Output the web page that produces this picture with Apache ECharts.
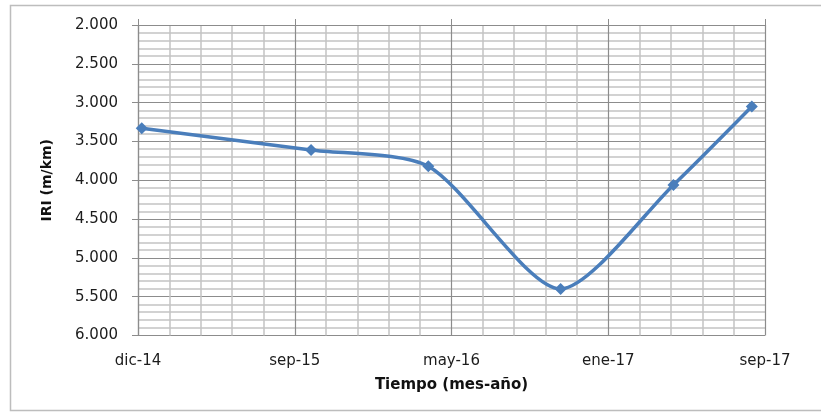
<!DOCTYPE html>
<html>
<head>
<meta charset="utf-8">
<script src="https://cdn.jsdelivr.net/npm/echarts@6/dist/echarts.min.js"></script>
<style>html,body{margin:0;padding:0;background:#fff}#c{width:821px;height:412px}</style>
</head>
<body>
<div id="c"></div>
<script>
// ---- data ----
const axisStart = '2014-12-28';
const dates = ['2015-01-03', '2015-09-30', '2016-04-04', '2016-11-01', '2017-04-30', '2017-09-02'];
const iri = [3.33, 3.61, 3.82, 5.40, 4.06, 3.05];
const xTickLabels = ['dic-14', 'sep-15', 'may-16', 'ene-17', 'sep-17'];
const xTickStepDays = 250;
const yMin = 2, yMax = 6, yStep = 0.5;

const dayMs = 86400000;
const t0 = Date.parse(axisStart);
const points = dates.map((d, i) => [(Date.parse(d) - t0) / dayMs, iri[i]]);

const font = 'DejaVu Sans';
const chart = echarts.init(document.getElementById('c'), null, {renderer: 'canvas'});
chart.setOption({
  animation: false,
  backgroundColor: '#fff',
  graphic: [{
    type: 'rect', shape: {x: 10.5, y: 5.5, width: 900, height: 405},
    style: {fill: 'none', stroke: '#bdbdbd', lineWidth: 1.5}, silent: true
  }],
  grid: {left: 138, right: 56, top: 25, bottom: 76.5, containLabel: false},
  xAxis: [{
    type: 'value', position: 'bottom',
    min: 0, max: xTickStepDays * (xTickLabels.length - 1), interval: xTickStepDays,
    axisLine: {show: false}, axisTick: {show: false},
    axisLabel: {
      margin: 18, color: '#1c1c1c', fontFamily: font, fontSize: 15,
      formatter: v => xTickLabels[Math.round(v / xTickStepDays)] || ''
    },
    splitLine: {show: true, lineStyle: {color: '#8c8c8c', width: 1.2}},
    minorTick: {show: false, splitNumber: 5},
    minorSplitLine: {show: true, lineStyle: {color: '#c4c4c4', width: 1.5}},
    name: 'Tiempo (mes-año)', nameLocation: 'middle', nameGap: 42,
    nameTextStyle: {fontFamily: font, fontSize: 15, fontWeight: 'bold', color: '#111'}
  }, {
    type: 'value', position: 'top',
    min: 0, max: xTickStepDays * (xTickLabels.length - 1), interval: xTickStepDays,
    axisLine: {show: true, lineStyle: {color: '#8c8c8c', width: 1.2}},
    axisTick: {show: true, length: 6, lineStyle: {color: '#8c8c8c'}},
    axisLabel: {show: false}, splitLine: {show: false}
  }],
  yAxis: {
    type: 'value', inverse: true, min: yMin, max: yMax, interval: yStep,
    axisLine: {show: true, lineStyle: {color: '#8c8c8c', width: 1.2}},
    axisTick: {show: true, length: 6, lineStyle: {color: '#8c8c8c'}},
    axisLabel: {
      margin: 20, color: '#1c1c1c', fontFamily: font, fontSize: 15,
      formatter: v => v.toFixed(3)
    },
    splitLine: {show: true, lineStyle: {color: '#8c8c8c', width: 1.2}},
    minorTick: {show: false, splitNumber: 5},
    minorSplitLine: {show: true, lineStyle: {color: '#c4c4c4', width: 1.5}},
    name: 'IRI (m/km)', nameLocation: 'middle', nameRotate: 90, nameGap: 84,
    nameTextStyle: {fontFamily: font, fontSize: 14, fontWeight: 'bold', color: '#111'}
  },
  series: [{
    type: 'line', xAxisIndex: 0, data: points, smooth: 0.25,
    symbol: 'diamond', symbolSize: 12,
    lineStyle: {color: '#4a7ebb', width: 3.5},
    itemStyle: {color: '#4a7ebb'}
  }]
});
</script>
</body>
</html>
